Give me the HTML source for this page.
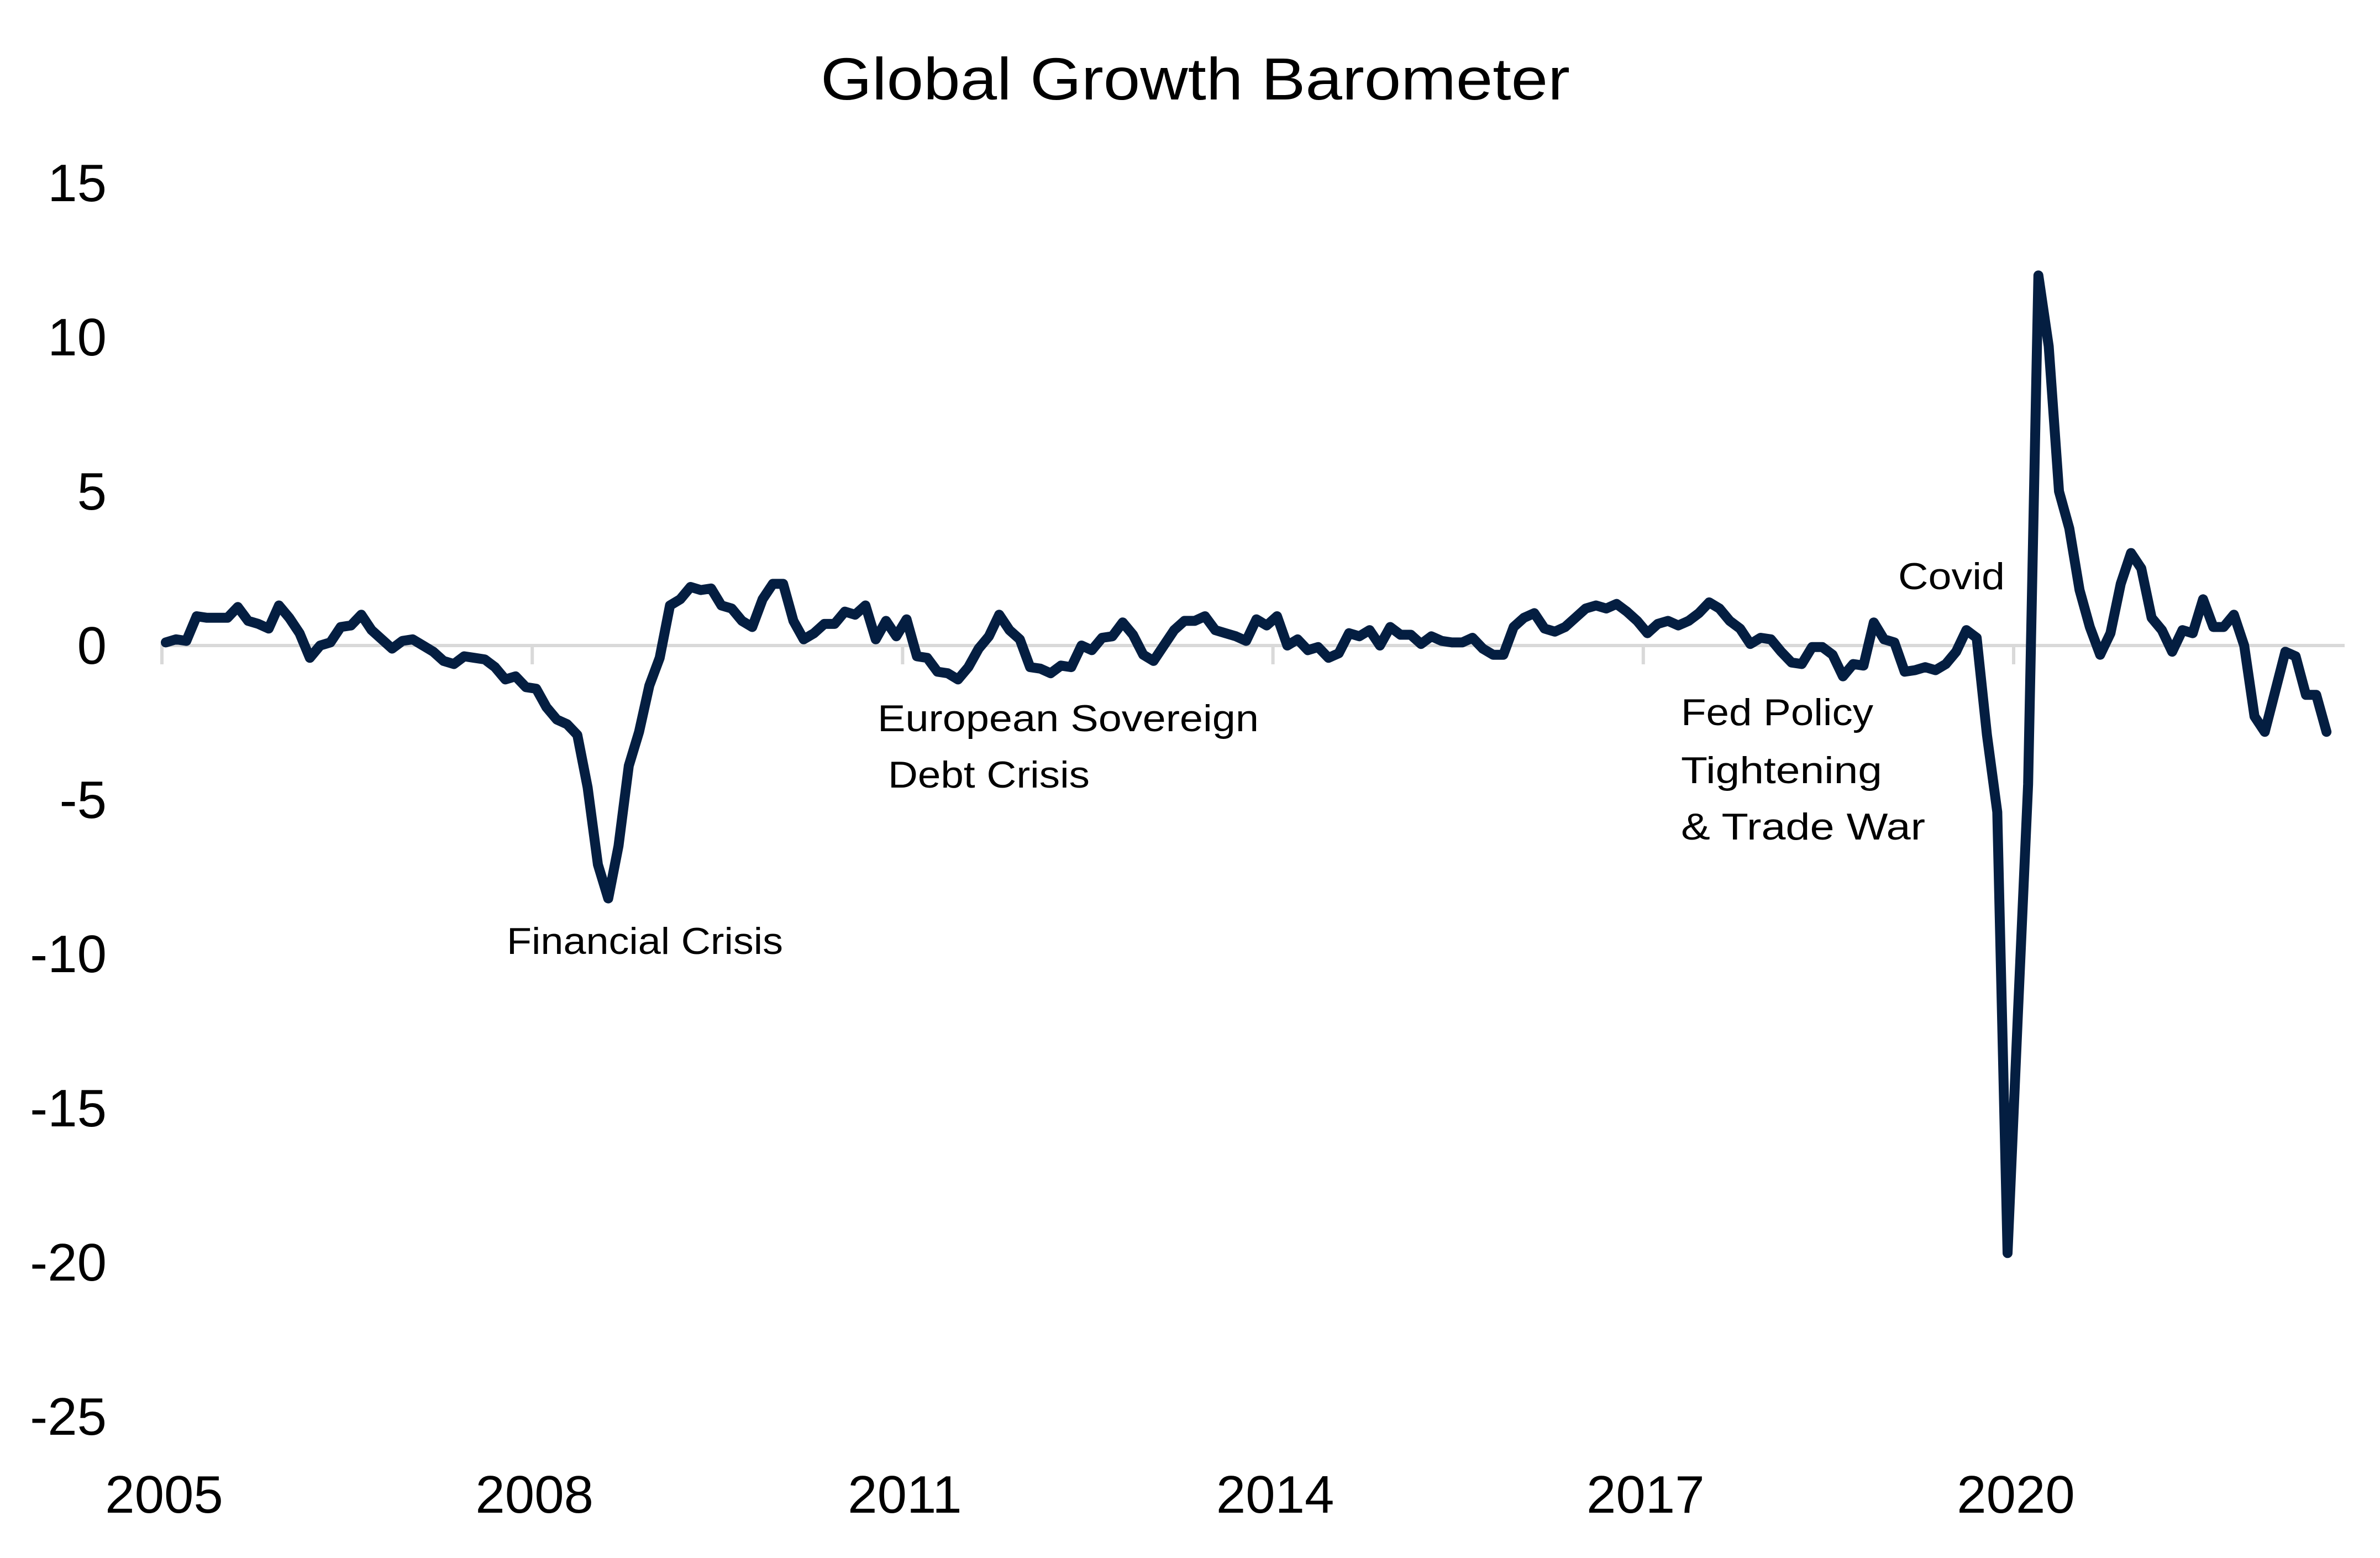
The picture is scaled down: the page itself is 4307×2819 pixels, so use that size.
<!DOCTYPE html>
<html><head><meta charset="utf-8"><title>Global Growth Barometer</title>
<style>html,body{margin:0;padding:0;background:#fff;}svg{display:block;}</style></head>
<body>
<svg id="chart" width="4307" height="2819" viewBox="0 0 4307 2819" xmlns="http://www.w3.org/2000/svg" font-family="'Liberation Sans', sans-serif">
<rect width="4307" height="2819" fill="#fff"/>
<text x="1485" y="180" font-size="108" textLength="1356" lengthAdjust="spacingAndGlyphs" fill="#000">Global Growth Barometer</text>
<g id="yaxis"></g>
<g id="xaxis"></g>
<g id="series"></g>
<g font-size="68" fill="#000">
<text x="917" y="1726" textLength="500" lengthAdjust="spacingAndGlyphs">Financial Crisis</text>
<text x="1588" y="1323" textLength="690" lengthAdjust="spacingAndGlyphs">European Sovereign</text>
<text x="1607" y="1425" textLength="365" lengthAdjust="spacingAndGlyphs">Debt Crisis</text>
<text x="3042" y="1312" textLength="348" lengthAdjust="spacingAndGlyphs">Fed Policy</text>
<text x="3042" y="1417" textLength="364" lengthAdjust="spacingAndGlyphs">Tightening</text>
<text x="3042" y="1519" textLength="442" lengthAdjust="spacingAndGlyphs">&amp; Trade War</text>
<text x="3435" y="1066" textLength="193" lengthAdjust="spacingAndGlyphs">Covid</text>
</g>
</svg>
<script>
const yTicks = [15, 10, 5, 0, -5, -10, -15, -20, -25];
const xTickLabels = ["2005", "2008", "2011", "2014", "2017", "2020"];
const xTickYears = [2005, 2008, 2011, 2014, 2017, 2020];
const startYear = 2005;
const values = [
0.1,0.2,0.15,0.95,0.9,0.9,0.9,1.25,0.8,0.7,0.55,1.3,
0.9,0.4,-0.4,0.0,0.1,0.6,0.65,1.0,0.5,0.2,-0.1,0.15,
0.2,0.0,-0.2,-0.5,-0.6,-0.35,-0.4,-0.45,-0.7,-1.1,-1.0,-1.35,
-1.4,-2.0,-2.4,-2.55,-2.9,-4.6,-7.1,-8.2,-6.5,-3.9,-2.8,-1.3,
-0.4,1.3,1.5,1.9,1.8,1.85,1.3,1.2,0.8,0.6,1.5,2.0,
2.0,0.8,0.2,0.4,0.7,0.7,1.1,1.0,1.3,0.2,0.8,0.3,
0.85,-0.35,-0.4,-0.85,-0.9,-1.1,-0.7,-0.1,0.3,1.0,0.5,0.2,
-0.7,-0.75,-0.9,-0.65,-0.7,0.0,-0.15,0.25,0.3,0.75,0.35,-0.3,
-0.5,0.0,0.5,0.8,0.8,0.95,0.5,0.4,0.3,0.15,0.85,0.65,
0.95,0.0,0.2,-0.15,-0.05,-0.4,-0.25,0.4,0.3,0.5,0.0,0.6,
0.35,0.35,0.05,0.3,0.15,0.1,0.1,0.25,-0.1,-0.3,-0.3,0.6,
0.9,1.05,0.55,0.45,0.6,0.9,1.2,1.3,1.2,1.35,1.1,0.8,
0.4,0.7,0.8,0.65,0.8,1.05,1.4,1.2,0.8,0.55,0.05,0.25,
0.2,-0.2,-0.55,-0.6,-0.05,-0.05,-0.3,-1.0,-0.6,-0.65,0.75,0.2,
0.1,-0.85,-0.8,-0.7,-0.8,-0.6,-0.2,0.5,0.25,-2.9,-5.4,-19.7,
-12.0,-4.5,12.0,9.7,5.0,3.8,1.8,0.6,-0.3,0.4,2.0,3.0,
2.5,0.9,0.5,-0.2,0.5,0.4,1.5,0.6,0.6,1.0,0.0,-2.3,
-2.8,-1.5,-0.2,-0.35,-1.6,-1.6,-2.8
];
const NS = "http://www.w3.org/2000/svg";
function yScale(v){ return 1168 - 55.8 * v; }
function xIndex(i){ return 300 + i * 18.62; }
function xYear(yr){ return 293 + (yr - startYear) * 223.4; }

const yg = document.getElementById('yaxis');
yTicks.forEach(function(v){
  const t = document.createElementNS(NS,'text');
  
  
  t.setAttribute('x', 193);
  t.setAttribute('y', yScale(v) + 33);
  t.setAttribute('text-anchor', 'end');
  t.setAttribute('font-size', '96');
  t.setAttribute('fill', '#000');
  t.textContent = String(v);
  yg.appendChild(t);
});

const xg = document.getElementById('xaxis');
const axisLine = document.createElementNS(NS,'line');


axisLine.setAttribute('x1', 290); axisLine.setAttribute('x2', 4243);
axisLine.setAttribute('y1', yScale(0)); axisLine.setAttribute('y2', yScale(0));
axisLine.setAttribute('stroke', '#d9d9d9'); axisLine.setAttribute('stroke-width', '6');
xg.appendChild(axisLine);
xTickYears.forEach(function(yr, k){
  const x = xYear(yr);
  const tk = document.createElementNS(NS,'line');
  
  
  tk.setAttribute('x1', x); tk.setAttribute('x2', x);
  tk.setAttribute('y1', yScale(0)); tk.setAttribute('y2', yScale(0) + 34);
  tk.setAttribute('stroke', '#d9d9d9'); tk.setAttribute('stroke-width', '6');
  xg.appendChild(tk);
  const t = document.createElementNS(NS,'text');
  
  
  t.setAttribute('x', x + 4);
  t.setAttribute('y', 2737);
  t.setAttribute('text-anchor', 'middle');
  t.setAttribute('font-size', '96');
  t.setAttribute('fill', '#000');
  t.textContent = xTickLabels[k];
  xg.appendChild(t);
});

const sg = document.getElementById('series');
const pts = values.map(function(v, i){ return xIndex(i).toFixed(1) + ',' + yScale(v).toFixed(1); }).join(' ');
const line = document.createElementNS(NS,'polyline');


line.setAttribute('points', pts);
line.setAttribute('fill', 'none');
line.setAttribute('stroke', '#041e41');
line.setAttribute('stroke-width', '18');
line.setAttribute('stroke-linejoin', 'round');
line.setAttribute('stroke-linecap', 'round');
sg.appendChild(line);
</script>
</body></html>
